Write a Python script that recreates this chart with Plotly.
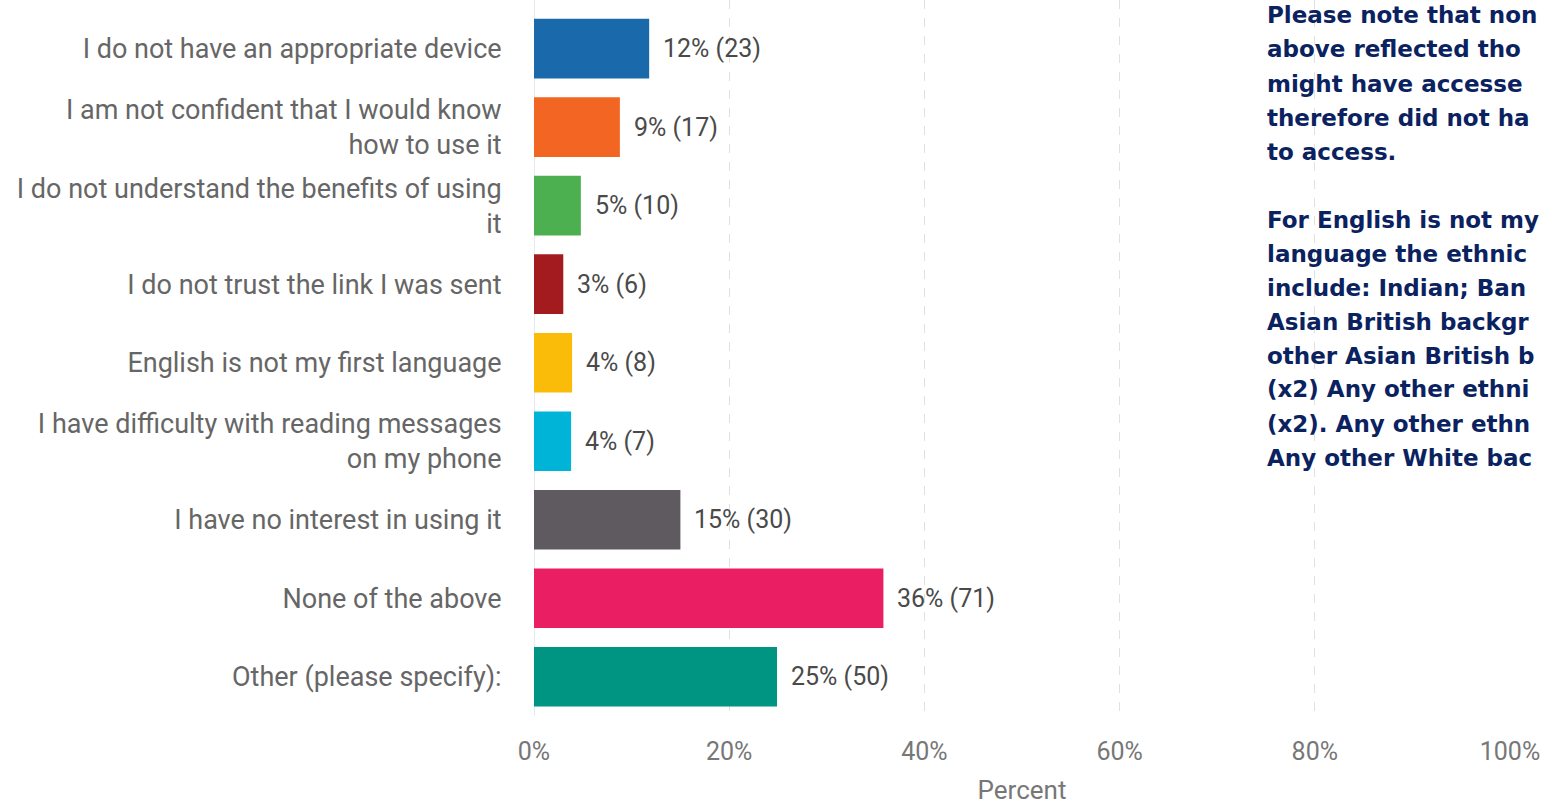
import plotly.graph_objects as go

categories = [
    "I do not have an appropriate device",
    "I am not confident that I would know<br>how to use it",
    "I do not understand the benefits of using<br>it",
    "I do not trust the link I was sent",
    "English is not my first language",
    "I have difficulty with reading messages<br>on my phone",
    "I have no interest in using it",
    "None of the above",
    "Other (please specify):",
]
percent_values = [11.8, 8.8, 4.8, 3.0, 3.9, 3.8, 15.0, 35.8, 24.9]
pct_labels = ["12%", "9%", "5%", "3%", "4%", "4%", "15%", "36%", "25%"]
counts = [23, 17, 10, 6, 8, 7, 30, 71, 50]
colors = ["#1a6aab", "#f26522", "#4caf50", "#a31b1f", "#fbbc09",
          "#00b4d8", "#5e5a60", "#e91e63", "#009483"]
x_ticks = [0, 20, 40, 60, 80, 100]
x_tick_labels = ["0%", "20%", "40%", "60%", "80%", "100%"]

# note text as visible in the reference (each line is cut at the right edge there)
note_lines = [
    "Please note that non",
    "above reflected tho",
    "might have accesse",
    "therefore did not ha",
    "to access.",
    "",
    "For English is not my",
    "language the ethnic",
    "include: Indian; Ban",
    "Asian British backgr",
    "other Asian British b",
    "(x2) Any other ethni",
    "(x2). Any other ethn",
    "Any other White bac",
]

PLOT_H = 716
fig = go.Figure()
fig.add_trace(go.Bar(
    x=percent_values,
    y=categories,
    orientation="h",
    marker=dict(color=colors, line=dict(width=0)),
    width=0.76,
    hoverinfo="skip",
))

for c, v, p, n in zip(categories, percent_values, pct_labels, counts):
    fig.add_annotation(
        x=v, y=c, xref="x", yref="y",
        text=f"{p} ({n})", showarrow=False,
        xanchor="left", yanchor="middle", xshift=12,
        font=dict(family="Roboto", size=25, color="#4a4a4a"),
    )

pitch = 34.0
for i, line in enumerate(note_lines):
    if not line:
        continue
    y_px = 15.5 + i * pitch  # line centre, px from top
    fig.add_annotation(
        x=(1265 - 534) / 976, y=1 - y_px / PLOT_H, xref="paper", yref="paper",
        text=line, showarrow=False,
        xanchor="left", yanchor="middle", align="left",
        font=dict(family="DejaVu Sans", size=23, color="#0b2260", weight="bold"),
    )

fig.update_layout(
    width=1546, height=805,
    margin=dict(l=534, r=36, t=0, b=805 - PLOT_H),
    paper_bgcolor="white", plot_bgcolor="white",
    showlegend=False,
    font=dict(family="Roboto", color="#666666"),
)
fig.update_xaxes(
    range=[0, 100],
    tickvals=x_ticks, ticktext=x_tick_labels,
    showgrid=True, gridcolor="#e0e0e0", griddash="dash", gridwidth=1,
    zeroline=False, showline=False,
    ticks="outside", ticklen=13, tickcolor="rgba(0,0,0,0)",
    tickfont=dict(family="Roboto", size=25, color="#777777"),
    title=dict(text="Percent", font=dict(family="Roboto", size=26, color="#777777"), standoff=17),
)
fig.update_yaxes(
    categoryorder="array", categoryarray=categories,
    range=[8.5, -0.62],
    showgrid=False, zeroline=False,
    showline=False,
    ticks="outside", ticklen=26, tickcolor="rgba(0,0,0,0)",
    tickfont=dict(family="Roboto", size=27, color="#666666"),
)
fig.add_shape(type="line", xref="x", yref="paper", x0=0, x1=0, y0=0, y1=1,
              line=dict(color="#dde4ec", width=1.5), layer="below")

fig.write_html("out.html", config={"displayModeBar": False},
               post_script="document.body.style.margin='0';")
